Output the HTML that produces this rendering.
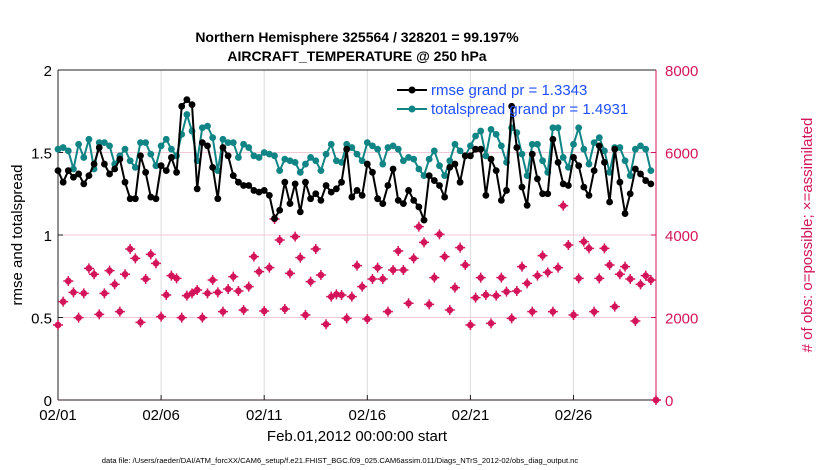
<!DOCTYPE html>
<html><head><meta charset="utf-8"><style>
body{margin:0;background:#fff;}
svg{display:block;font-family:"Liberation Sans",sans-serif;}
</style></head><body>
<svg id="chart" width="830" height="470">
<text x="357" y="42" text-anchor="middle" font-size="14" font-weight="bold">Northern Hemisphere 325564 / 328201 = 99.197%</text>
<text x="357" y="61" text-anchor="middle" font-size="14" font-weight="bold">AIRCRAFT_TEMPERATURE @ 250 hPa</text>
<g id="grid"></g>
<g id="axes"></g>
<g id="marks"></g>
<text transform="translate(22,235) rotate(-90)" text-anchor="middle" font-size="15">rmse and totalspread</text>
<text transform="translate(812,235) rotate(-90)" text-anchor="middle" font-size="15" fill="#d4145a"># of obs: o=possible; ×=assimilated</text>
<text x="357" y="441" text-anchor="middle" font-size="15">Feb.01,2012 00:00:00 start</text>
<text x="340" y="463" text-anchor="middle" font-size="7.6">data file: /Users/raeder/DAI/ATM_forcXX/CAM6_setup/f.e21.FHIST_BGC.f09_025.CAM6assim.011/Diags_NTrS_2012-02/obs_diag_output.nc</text>
<g>
<line x1="397" y1="90" x2="427" y2="90" stroke="#000" stroke-width="2"/>
<circle cx="412" cy="90" r="3.5" fill="#000"/>
<text x="431" y="95" font-size="15" fill="#1f4fff">rmse grand pr = 1.3343</text>
<line x1="397" y1="109" x2="427" y2="109" stroke="#118585" stroke-width="2"/>
<circle cx="412" cy="109" r="3.5" fill="#118585"/>
<text x="431" y="114" font-size="15" fill="#1f4fff">totalspread grand pr = 1.4931</text>
</g>
</svg>
<script>
const xTickLabels = ["02/01","02/06","02/11","02/16","02/21","02/26"];
const xTickDays = [0,5,10,15,20,25];
const yLeftTicks = [0,0.5,1,1.5,2];
const yRightTicks = [0,2000,4000,6000,8000];
const stepDays = 0.25;
const rmse = [1.39,1.32,1.39,1.35,1.37,1.31,1.36,1.43,1.53,1.43,1.37,1.40,1.46,1.32,1.22,1.22,1.48,1.38,1.23,1.22,1.42,1.39,1.47,1.38,1.78,1.82,1.79,1.28,1.56,1.54,1.41,1.22,1.53,1.48,1.36,1.32,1.30,1.30,1.27,1.26,1.27,
1.24,1.10,1.15,1.32,1.19,1.31,1.14,1.32,1.22,1.25,1.21,1.30,1.26,1.28,1.32,1.52,1.23,1.27,1.24,1.43,1.38,1.22,1.19,1.30,1.40,1.21,1.19,1.27,1.21,1.17,1.09,1.36,1.33,1.30,1.23,1.41,1.43,1.32,1.48,
1.48,1.52,1.52,1.24,1.46,1.39,1.21,1.27,1.78,1.53,1.29,1.18,1.49,1.34,1.25,1.25,1.58,1.44,1.31,1.30,1.47,1.42,1.29,1.24,1.39,1.54,1.44,1.20,1.52,1.32,1.13,1.25,1.40,1.37,1.33,1.31];
const spread = [1.52,1.53,1.51,1.40,1.55,1.47,1.58,1.40,1.56,1.56,1.54,1.43,1.48,1.52,1.45,1.41,1.56,1.56,1.49,1.42,1.54,1.58,1.52,1.48,1.61,1.73,1.63,1.45,1.65,1.66,1.59,1.39,1.58,1.56,1.56,1.47,1.55,1.53,1.48,1.47,1.50,
1.49,1.48,1.39,1.46,1.45,1.44,1.38,1.43,1.47,1.45,1.39,1.49,1.55,1.45,1.44,1.55,1.53,1.49,1.45,1.56,1.54,1.52,1.43,1.53,1.54,1.52,1.45,1.47,1.46,1.40,1.36,1.46,1.51,1.42,1.36,1.45,1.55,1.51,1.48,
1.54,1.60,1.63,1.48,1.64,1.61,1.54,1.44,1.65,1.62,1.49,1.36,1.55,1.55,1.45,1.38,1.65,1.65,1.47,1.41,1.55,1.65,1.52,1.43,1.56,1.59,1.51,1.38,1.53,1.53,1.45,1.36,1.52,1.54,1.52,1.39];
const obsCount = [1818,2384,2885,2610,1996,2586,3192,3047,2077,2586,3135,2804,2142,3047,3661,3434,1883,2934,3531,3313,2020,2546,3014,2950,1996,2529,2586,2667,1996,2586,2909,2610,2142,2691,2990,2643,2182,2748,3475,3111,2158,
3208,4388,3879,2206,3071,3960,3451,2061,2869,3661,3030,1835,2505,2562,2546,1980,2505,3257,2748,1964,2934,3208,2934,2142,3152,3612,3152,2344,3434,4202,3822,2319,2966,4016,3475,2182,2723,3693,3273,
1818,2481,2966,2546,1859,2529,2966,2626,1980,2643,3232,2828,2142,3014,3499,3095,2142,3208,4711,3758,2061,2950,3838,3677,2142,2950,3677,3273,2263,3047,3232,2934,1915,2804,3014,2909,0];

const X0=58,X1=656,YT=70,YB=400,DMAX=29;
const xs=d=>X0+(X1-X0)*d/DMAX;
const yl=v=>YB-(YB-YT)*v/2;
const yr=v=>YB-(YB-YT)*v/8000;
const NS="http://www.w3.org/2000/svg";
function mk(tag,attrs,parent){const e=document.createElementNS(NS,tag);for(const k in attrs)e.setAttribute(k,attrs[k]);parent.appendChild(e);return e;}
const gridG=document.getElementById('grid'),axesG=document.getElementById('axes'),marksG=document.getElementById('marks');

xTickDays.forEach((d,i)=>{
  const gl=mk('line',{x1:xs(d),x2:xs(d),y1:YT,y2:YB,stroke:'#dcdcdc','stroke-width':1},gridG);
  
  
  const tk=mk('line',{x1:xs(d),x2:xs(d),y1:YB,y2:YB-5,stroke:'#222'},axesG);
  
  
  const t=mk('text',{x:xs(d),y:YB+20,'text-anchor':'middle','font-size':15},axesG);
  t.textContent=xTickLabels[i];
  
  
});
yLeftTicks.forEach(v=>{
  if(v>0&&v<2){const gl=mk('line',{x1:X0,x2:X1,y1:yl(v),y2:yl(v),stroke:'#f0c8d6','stroke-width':1},gridG);
  
  }
  const tk=mk('line',{x1:X0,x2:X0+5,y1:yl(v),y2:yl(v),stroke:'#222'},axesG);
  
  
  const t=mk('text',{x:X0-6,y:yl(v)+6,'text-anchor':'end','font-size':15},axesG);
  t.textContent=String(v);
  
  
});
yRightTicks.forEach(v=>{
  const tk=mk('line',{x1:X1,x2:X1-5,y1:yr(v),y2:yr(v),stroke:'#d4145a'},axesG);
  
  
  const t=mk('text',{x:X1+9,y:yr(v)+6,'text-anchor':'start','font-size':15,fill:'#d4145a'},axesG);
  t.textContent=String(v);
  
  
});
const topBorder=mk('line',{x1:X0,x2:X1,y1:YT,y2:YT,stroke:'#222'},axesG);


const botAxis=mk('line',{x1:X0,x2:X1,y1:YB,y2:YB,stroke:'#2a1a22'},axesG);


const leftAxis=mk('line',{x1:X0,x2:X0,y1:YT,y2:YB,stroke:'#222'},axesG);


const rightAxis=mk('line',{x1:X1,x2:X1,y1:YT,y2:YB,stroke:'#d4145a'},axesG);



obsCount.forEach((v,i)=>{
  const d=(i===obsCount.length-1&&v===0)?DMAX:i*stepDays;
  const g=mk('g',{},marksG);
  
  
  const cx=xs(d),cy=yr(v);
  mk('circle',{cx:cx,cy:cy,r:3.3,fill:'#d4145a'},g);
  mk('path',{d:`M${cx-5} ${cy}H${cx+5}M${cx} ${cy-5}V${cy+5}`,stroke:'#d4145a','stroke-width':1.5},g);
});
function series(vals,color,name){
  const pts=vals.map((v,i)=>xs(i*stepDays).toFixed(1)+','+yl(v).toFixed(1)).join(' ');
  const pl=mk('polyline',{points:pts,fill:'none',stroke:color,'stroke-width':2,'stroke-linejoin':'round'},marksG);
  
  
  vals.forEach((v,i)=>{
    const c=mk('circle',{cx:xs(i*stepDays),cy:yl(v),r:3.4,fill:color},marksG);
    
    
  });
}
series(spread,'#118585','totalspread');
series(rmse,'#000000','rmse');
</script>
</body></html>
